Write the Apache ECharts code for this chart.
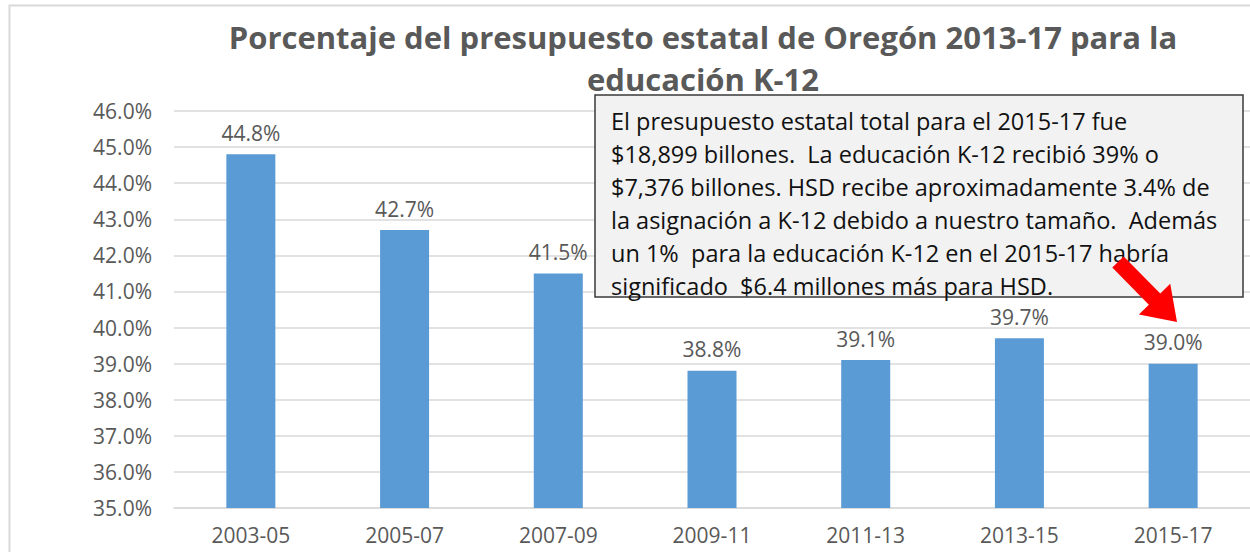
<!DOCTYPE html>
<html>
<head>
<meta charset="utf-8">
<script src="https://cdn.jsdelivr.net/npm/echarts@6/dist/echarts.min.js"></script>
<style>
  html, body { margin: 0; padding: 0; background: #fff; }
  #chart { width: 1250px; height: 552px; }
</style>
</head>
<body>
<div id="chart"></div>
<script>
var periods = ['2003-05', '2005-07', '2007-09', '2009-11', '2011-13', '2013-15', '2015-17'];
var shares = [44.8, 42.7, 41.5, 38.8, 39.1, 39.7, 39.0];
var yTicks = { min: 35, max: 46, step: 1 };
var titleLines = ['Porcentaje del presupuesto estatal de Oregón 2013-17 para la', 'educación K-12'];
var noteLines = [
  'El presupuesto estatal total para el 2015-17 fue',
  '$18,899 billones.  La educación K-12 recibió 39% o',
  '$7,376 billones. HSD recibe aproximadamente 3.4% de',
  'la asignación a K-12 debido a nuestro tamaño.  Además',
  'un 1%  para la educación K-12 en el 2015-17 habría',
  'significado  $6.4 millones más para HSD.'
];

(function() {
  var grey = '#595959';
  var rule = '#d9d9d9';
  var font = 'Open Sans';

  // red arrow pointing at the last bar
  function arrowPoints(tx, ty, px, py, shaftW, headW, headL) {
    var dx = px - tx, dy = py - ty;
    var len = Math.sqrt(dx * dx + dy * dy);
    var ux = dx / len, uy = dy / len, nx = -uy, ny = ux;
    var bx = px - ux * headL, by = py - uy * headL;
    var s = shaftW / 2, h = headW / 2;
    return [
      [tx + nx * s, ty + ny * s], [bx + nx * s, by + ny * s], [bx + nx * h, by + ny * h],
      [px, py],
      [bx - nx * h, by - ny * h], [bx - nx * s, by - ny * s], [tx - nx * s, ty - ny * s]
    ];
  }

  var chart = echarts.init(document.getElementById('chart'), null, { renderer: 'svg' });
  chart.setOption({
    animation: false,
    backgroundColor: '#fff',
    textStyle: { fontFamily: font },
    title: {
      text: titleLines.join('\n'),
      left: 698,
      top: 11,
      textAlign: 'center',
      textStyle: { color: grey, fontSize: 31, fontWeight: 'bold', lineHeight: 42, fontFamily: font }
    },
    grid: { left: 174, right: -2, top: 111, bottom: 44, containLabel: false },
    xAxis: {
      type: 'category',
      data: periods,
      axisLine: { lineStyle: { color: rule, width: 1.5 } },
      axisTick: { show: false },
      axisLabel: { color: grey, fontSize: 21, margin: 16 }
    },
    yAxis: {
      type: 'value',
      min: yTicks.min,
      max: yTicks.max,
      interval: yTicks.step,
      axisLine: { show: false },
      axisTick: { show: false },
      splitLine: { lineStyle: { color: rule, width: 1.5 } },
      axisLabel: { color: grey, fontSize: 21, margin: 22, formatter: function(v) { return v.toFixed(1) + '%'; } }
    },
    series: [{
      type: 'bar',
      data: shares,
      barWidth: 49,
      itemStyle: { color: '#5b9bd5' },
      label: {
        show: true,
        position: 'top',
        distance: 11,
        color: grey,
        fontSize: 21,
        formatter: function(p) { return p.value.toFixed(1) + '%'; }
      }
    }],
    graphic: [
      { type: 'rect', left: 7, top: 3, shape: { width: 1260, height: 560 }, style: { fill: 'none', stroke: rule, lineWidth: 2 }, silent: true },
      { type: 'rect', shape: { x: 595, y: 95, width: 648, height: 202 }, style: { fill: '#f2f2f2', stroke: '#3a3a3a', lineWidth: 1.5 }, z: 10 },
      { type: 'text', x: 611, y: 104, z: 11, style: { text: noteLines.join('\n'), fill: '#111', font: '23.5px "' + font + '"', lineHeight: 33 } },
      { type: 'polygon', z: 12, shape: { points: arrowPoints(1118, 262, 1177, 322, 16, 44, 32) }, style: { fill: '#ff0000' } }
    ]
  });
  window.addEventListener('resize', function() { chart.resize(); });
})();
</script>
</body>
</html>
